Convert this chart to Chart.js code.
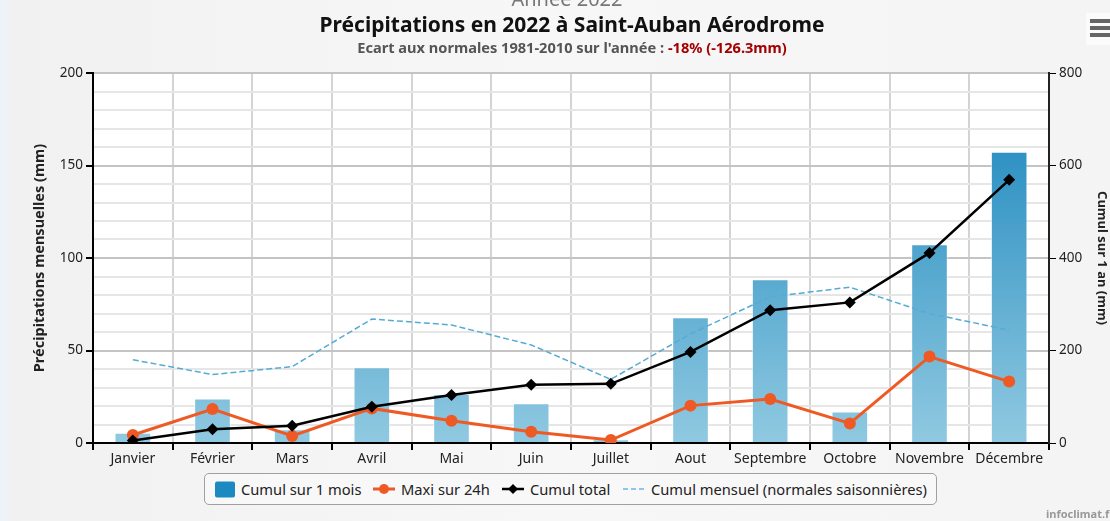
<!DOCTYPE html>
<html>
<head>
<meta charset="utf-8">
<title>Précipitations 2022 Saint-Auban</title>
<script src="https://cdn.jsdelivr.net/npm/chart.js@4.4.1/dist/chart.umd.min.js"></script>
<style>
html, body { margin: 0; padding: 0; }
body {
    width: 1110px; height: 521px; overflow: hidden; position: relative;
    background: linear-gradient(90deg, #f1f1f1 0%, #f7f7f7 50%, #f4f4f4 100%);
    font-family: "Noto Sans", "DejaVu Sans", sans-serif;
}
#strip { position: absolute; left: 0; top: 0; width: 8px; height: 521px; background: #eef3fa; }
#myChart { position: absolute; left: 0; top: 0; }
.txt { position: absolute; white-space: nowrap; transform: translateX(-50%); }
#annee { left: 567px; top: -15px; font-size: 20px; color: #777; }
#titre { left: 572px; top: 10px; font-size: 21px; font-weight: bold; color: #111; }
#soustitre { left: 572px; top: 37px; font-size: 14.6px; font-weight: bold; color: #555; }
#soustitre span { color: #a30000; }
#menu { position: absolute; left: 1086px; top: 13px; width: 30px; height: 32px; background: #fbfbfb; }
#menu div { position: absolute; left: 4px; width: 24px; height: 4px; background: #666; }
#legende {
    position: absolute; left: 204px; top: 473px; width: 731px; height: 30px;
    border: 1px solid #a0a0a0; border-radius: 5px; background: #f8f8f8;
    font-size: 14.7px; color: #222;
}
#legende .it { position: absolute; top: 5px; display: flex; align-items: center; }
#legende svg { margin-right: 6px; }
#credit { position: absolute; left: 1046px; top: 506px; font-size: 11px; font-weight: bold; color: #999; }
</style>
</head>
<body>
<div id="strip"></div>
<canvas id="myChart" width="1110" height="521"></canvas>
<div class="txt" id="annee">Année 2022</div>
<div class="txt" id="titre">Précipitations en 2022 à Saint-Auban Aérodrome</div>
<div class="txt" id="soustitre">Ecart aux normales 1981-2010 sur l'année : <span>-18% (-126.3mm)</span></div>
<div id="menu"><div style="top:6px"></div><div style="top:13px"></div><div style="top:20px"></div></div>
<div id="legende">
    <div class="it" style="left:10px"><svg width="20" height="17"><rect x="0" y="0.5" width="20" height="16" rx="2" fill="#1c89c0"/></svg>Cumul sur 1 mois</div>
    <div class="it" style="left:168px"><svg width="22" height="14"><line x1="0" y1="7" x2="22" y2="7" stroke="#ef5a24" stroke-width="3"/><circle cx="11" cy="7" r="5" fill="#ef5a24"/></svg>Maxi sur 24h</div>
    <div class="it" style="left:297px"><svg width="22" height="14"><line x1="0" y1="7" x2="22" y2="7" stroke="#000" stroke-width="2.5"/><path d="M11 2 L16 7 L11 12 L6 7 Z" fill="#000"/></svg>Cumul total</div>
    <div class="it" style="left:418px"><svg width="22" height="14"><line x1="0" y1="7" x2="22" y2="7" stroke="#8cc8e6" stroke-width="2" stroke-dasharray="5,3"/></svg>Cumul mensuel (normales saisonnières)</div>
</div>
<div id="credit">infoclimat.fr</div>

<script>
// donnees (mm)
const mois = ['Janvier', 'Février', 'Mars', 'Avril', 'Mai', 'Juin', 'Juillet', 'Aout', 'Septembre', 'Octobre', 'Novembre', 'Décembre'];
const cumulMois = [5.5, 24, 7.5, 41, 26.5, 21.5, 2, 68, 88.5, 17, 107.5, 157.5];
const maxi24h = [4.3, 18.4, 3.8, 18.7, 12, 6.1, 1.6, 20.2, 23.8, 10.6, 46.7, 33.2];
const cumulTotal = [5.5, 29.5, 37.5, 78.5, 104, 126, 128, 197, 287, 304, 411, 569];
const normales = [45, 37, 41.3, 67, 63.8, 53, 34.4, 59, 79, 84.2, 70, 61];
const ticksGauche = [0, 50, 100, 150, 200];
const ticksDroite = [0, 200, 400, 600, 800];

const police = '"Noto Sans", "DejaVu Sans", sans-serif';

function degradeBarre(c) {
    const a = c.chart.chartArea;
    if (!a) return '#5aaed3';
    const g = c.chart.ctx.createLinearGradient(0, a.top, 0, a.bottom);
    g.addColorStop(0, '#1583bb');
    g.addColorStop(1, '#90c9e1');
    return g;
}

// fond blanc de la zone de trace
const fondZone = {
    id: 'fondZone',
    beforeDraw(chart) {
        const { ctx, chartArea: a } = chart;
        ctx.save();
        ctx.fillStyle = '#ffffff';
        ctx.fillRect(a.left, a.top, a.right - a.left, a.bottom - a.top);
        ctx.restore();
    }
};

const ctx = document.getElementById('myChart').getContext('2d');
new Chart(ctx, {
    data: {
        labels: mois,
        datasets: [
            {
                type: 'line',
                label: 'Cumul total',
                data: cumulTotal,
                yAxisID: 'y1',
                borderColor: '#000',
                backgroundColor: '#000',
                borderWidth: 2.5,
                pointStyle: 'rectRot',
                pointRadius: 6,
                pointBorderWidth: 0,
                tension: 0,
                order: 1
            },
            {
                type: 'line',
                label: 'Maxi sur 24h',
                data: maxi24h,
                yAxisID: 'y',
                borderColor: '#ef5a24',
                backgroundColor: '#ef5a24',
                borderWidth: 3,
                pointRadius: 6,
                pointBorderWidth: 0,
                tension: 0,
                order: 2
            },
            {
                type: 'line',
                label: 'Cumul mensuel (normales saisonnières)',
                data: normales,
                yAxisID: 'y',
                borderColor: '#55abd6',
                borderWidth: 1.5,
                borderDash: [6, 3],
                pointRadius: 0,
                tension: 0,
                order: 3
            },
            {
                type: 'bar',
                label: 'Cumul sur 1 mois',
                data: cumulMois,
                yAxisID: 'y',
                backgroundColor: degradeBarre,
                borderColor: 'rgba(255,255,255,0.6)',
                borderWidth: 1,
                categoryPercentage: 1,
                barPercentage: 0.46,
                order: 4
            }
        ]
    },
    options: {
        responsive: false,
        animation: false,
        layout: { padding: { left: 0, right: 0, top: 73, bottom: 48 } },
        plugins: { legend: { display: false }, tooltip: { enabled: false } },
        scales: {
            x: {
                offset: true,
                grid: { offset: true, color: '#d4d4d4', lineWidth: 2, tickLength: 7, tickColor: '#000' },
                border: { color: '#000', width: 2 },
                ticks: { color: '#222', font: { family: police, size: 14 }, padding: 1, maxRotation: 0 },
                afterFit: s => { s.height = 30; }
            },
            y: {
                position: 'left',
                min: 0,
                max: 200,
                afterBuildTicks: s => {
                    const t = [];
                    for (let v = 0; v <= 200; v += 10) t.push({ value: v });
                    s.ticks = t;
                },
                grid: {
                    color: c => (c.tick && c.tick.value % 50 === 0) ? '#c4c4c4' : '#e6e6e6',
                    lineWidth: 2,
                    tickLength: 7,
                    tickColor: c => (c.tick && c.tick.value % 50 === 0) ? '#000' : 'rgba(0,0,0,0)'
                },
                border: { color: '#000', width: 2 },
                ticks: {
                    autoSkip: false,
                    color: '#222',
                    font: { family: police, size: 13.5 },
                    padding: 3,
                    callback: v => ticksGauche.includes(v) ? v : ''
                },
                title: {
                    display: true,
                    text: 'Précipitations mensuelles (mm)',
                    color: '#222',
                    font: { family: police, size: 14.5, weight: 'bold' },
                    padding: { top: 31, bottom: 0 }
                },
                afterFit: s => { s.width = 93; }
            },
            y1: {
                position: 'right',
                min: 0,
                max: 800,
                afterBuildTicks: s => { s.ticks = ticksDroite.map(v => ({ value: v })); },
                grid: { drawOnChartArea: false, tickLength: 7, tickColor: '#000' },
                border: { color: '#222', width: 2 },
                ticks: { color: '#222', font: { family: police, size: 13.5 }, padding: 3 },
                title: {
                    display: true,
                    text: 'Cumul sur 1 an (mm)',
                    color: '#222',
                    font: { family: police, size: 13, weight: 'bold' },
                    padding: { top: 0, bottom: 0 }
                },
                afterFit: s => { s.width = 61; }
            }
        }
    },
    plugins: [fondZone]
});
</script>
</body>
</html>
